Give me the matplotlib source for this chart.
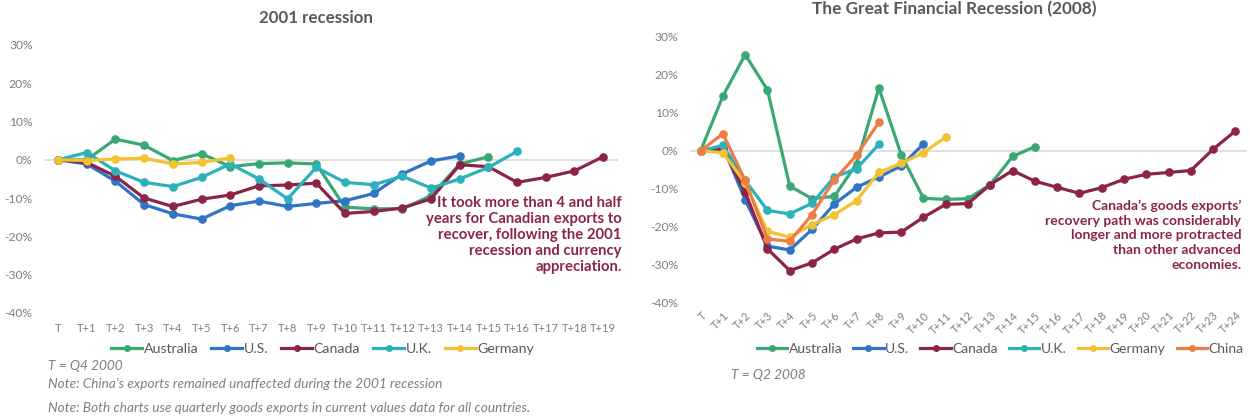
import matplotlib
matplotlib.use("Agg")
import matplotlib.pyplot as plt
from matplotlib.lines import Line2D
from matplotlib.ticker import FuncFormatter

plt.rcParams["font.family"] = ["Lato", "DejaVu Sans"]

# quarterly goods exports, % change from T
periods_2001 = ["T"] + [f"T+{i}" for i in range(1, 20)]
aus_2001 = [0, 0.0, 5.4, 3.8, -0.2, 1.6, -1.8, -1.0, -0.8, -1.1, -12.4, -12.8, -12.8, -9.4, -1.1, 0.8]
us_2001 = [0, -1.1, -5.6, -11.7, -14.1, -15.5, -12.0, -10.8, -12.2, -11.4, -10.7, -8.8, -3.7, -0.3, 1.0]
can_2001 = [0, -0.7, -4.3, -10.0, -12.2, -10.3, -9.2, -6.8, -6.6, -6.1, -14.0, -13.5, -12.6, -10.2, -1.3,
            -1.8, -5.9, -4.6, -2.9, 0.8]
uk_2001 = [0, 1.9, -2.9, -5.9, -7.0, -4.6, -1.1, -5.0, -10.2, -2.0, -5.9, -6.5, -4.3, -7.4, -5.0, -2.0, 2.2]
ger_2001 = [0, -0.2, 0.2, 0.4, -1.1, -0.7, 0.5]

periods_2008 = ["T"] + [f"T+{i}" for i in range(1, 25)]
aus_2008 = [0, 14.4, 25.3, 16.0, -9.3, -12.6, -12.0, -3.4, 16.5, -1.0, -12.5, -12.8, -12.6, -8.9, -1.5, 1.1]
us_2008 = [0, 1.1, -12.9, -25.1, -26.1, -20.7, -14.0, -9.6, -6.9, -4.0, 1.8]
can_2008 = [0, 0.5, -10.9, -25.8, -31.5, -29.5, -25.9, -23.2, -21.6, -21.4, -17.5, -14.1, -13.9, -8.9,
            -5.2, -8.0, -9.6, -11.2, -9.7, -7.5, -6.2, -5.7, -5.2, 0.4, 5.2]
uk_2008 = [0, 1.4, -7.8, -15.7, -16.6, -13.8, -6.9, -4.7, 1.7]
ger_2008 = [0, -0.5, -8.5, -21.2, -22.7, -19.4, -16.8, -13.1, -5.7, -3.3, -0.5, 3.6]
chn_2008 = [0, 4.5, -7.8, -23.2, -23.8, -16.8, -7.6, -1.2, 7.5]

colors = {
    "Australia": "#3aa874",
    "U.S.": "#2f74c8",
    "Canada": "#8c2448",
    "U.K.": "#2bb1b9",
    "Germany": "#f2c231",
    "China": "#ee7d45",
}
grey = "#7f7f7f"
maroon = "#8c2448"


def draw_panel(ax, periods, series, rotate):
    for name, vals in series:
        ax.plot(range(len(vals)), vals, color=colors[name], lw=2.3, marker="o",
                markersize=5.2, solid_capstyle="round", label=name)
    ax.axhline(0, color="#d9d9d9", lw=1.2, zorder=0)
    ax.set_xlim(-0.5, len(periods) - 0.5)
    ax.set_ylim(-40, 30)
    ax.set_yticks(range(-40, 31, 10))
    ax.yaxis.set_major_formatter(FuncFormatter(lambda v, _: f"{v:.0f}%"))
    ax.set_xticks(range(len(periods)))
    if rotate:
        ax.set_xticklabels(periods, rotation=45, ha="right", rotation_mode="anchor")
    else:
        ax.set_xticklabels(periods)
    ax.tick_params(length=0, colors=grey)
    ax.tick_params(axis="y", pad=8, labelsize=8.7)
    ax.tick_params(axis="x", labelsize=8)
    for s in ax.spines.values():
        s.set_visible(False)


fig = plt.figure(figsize=(12.5, 4.2), dpi=100)

ax1 = fig.add_axes([0.035, 0.255, 0.459, 0.638])
draw_panel(ax1, periods_2001, [("Australia", aus_2001), ("U.S.", us_2001), ("Canada", can_2001),
                               ("U.K.", uk_2001), ("Germany", ger_2001)], rotate=False)
ax1.tick_params(axis="x", pad=7)
fig.text(0.253, 0.958, "2001 recession", ha="center", va="center", fontsize=12.2,
         fontweight="bold", color="#595959")
fig.text(0.4975, 0.44, "It took more than 4 and half\nyears for Canadian exports to\n"
         "recover, following the 2001\nrecession and currency\nappreciation.",
         ha="right", va="center", fontsize=10.7, fontweight="bold", color=maroon, linespacing=1.18)

ax2 = fig.add_axes([0.5516, 0.279, 0.4456, 0.6335])
draw_panel(ax2, periods_2008, [("Australia", aus_2008), ("U.S.", us_2008), ("Canada", can_2008),
                               ("U.K.", uk_2008), ("Germany", ger_2008), ("China", chn_2008)],
           rotate=True)
ax2.tick_params(axis="x", pad=5)
fig.text(0.763, 0.978, "The Great Financial Recession (2008)", ha="center", va="center",
         fontsize=12.4, fontweight="bold", color="#595959")
fig.text(0.993, 0.44, "Canada\u2019s goods exports\u2019\nrecovery path was considerably\n"
         "longer and more protracted\nthan other advanced\neconomies.",
         ha="right", va="center", fontsize=10, fontweight="bold", color=maroon, linespacing=1.27)


def legend_handles(names):
    return [Line2D([], [], color=colors[n], lw=2.3, marker="o", markersize=4) for n in names]


names1 = ["Australia", "U.S.", "Canada", "U.K.", "Germany"]
names2 = names1 + ["China"]
for names, cx, cy, size, gap in [(names1, 0.258, 0.168, 10.2, 0.9), (names2, 0.8, 0.17, 10, 0.8)]:
    fig.legend(legend_handles(names), names, loc="center", bbox_to_anchor=(cx, cy), ncol=len(names),
               frameon=False, fontsize=size, handlelength=2.2, handletextpad=0.1, columnspacing=gap,
               labelcolor="#595959")

note_style = dict(fontsize=9.8, style="italic", color=grey, ha="left", va="center")
fig.text(0.038, 0.128, "T = Q4 2000", **note_style)
fig.text(0.038, 0.085, "Note: China\u2019s exports remained unaffected during the 2001 recession", **note_style)
fig.text(0.038, 0.028, "Note: Both charts use quarterly goods exports in current values data for all countries.",
         **note_style)
fig.text(0.585, 0.107, "T = Q2 2008", **note_style)

fig.savefig("out.png", dpi=100)
